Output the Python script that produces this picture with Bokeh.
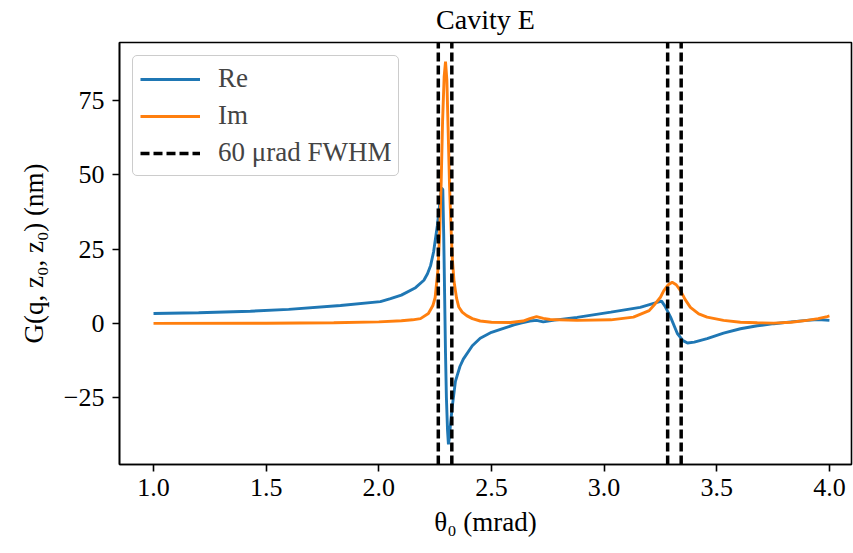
from bokeh.plotting import figure
from bokeh.models import Range1d, FixedTicker, Legend, LegendItem, Title
from bokeh.embed import file_html
from bokeh.resources import INLINE

# ---- data ----
re_x = [1.0, 1.2, 1.43, 1.6, 1.83, 2.007, 2.052, 2.1, 2.163, 2.2, 2.216, 2.23,
        2.243, 2.26, 2.27, 2.278, 2.284, 2.288, 2.292, 2.296, 2.300, 2.305,
        2.309, 2.313, 2.318, 2.326, 2.34, 2.36, 2.375, 2.415, 2.45, 2.5, 2.54,
        2.6, 2.63, 2.67, 2.70, 2.73, 2.78, 2.88, 3.03, 3.16, 3.235, 3.255,
        3.27, 3.295, 3.325, 3.35, 3.37, 3.40, 3.457, 3.53, 3.605, 3.68, 3.753,
        3.83, 3.90, 3.95, 4.0]
re_y = [3.3, 3.6, 4.1, 4.7, 6.0, 7.3, 8.3, 9.5, 12.0, 14.5, 16.7, 19.5,
        24.0, 33.0, 40.0, 45.5, 45.0, 30.0, 10.0, -10.0, -25.0, -36.0,
        -40.7, -38.5, -34.0, -28.0, -19.5, -14.5, -12.0, -7.5, -5.0, -3.0, -2.0,
        -0.5, 0.1, 0.8, 1.0, 0.5, 1.1, 2.0, 3.8, 5.4, 7.1, 7.5,
        5.8, 2.1, -3.4, -5.8, -6.6, -6.3, -5.1, -3.3, -1.8, -0.8, -0.1,
        0.5, 1.0, 1.3, 1.0]

im_x = [1.0, 1.5, 1.8, 2.0, 2.1, 2.15, 2.185, 2.22, 2.24, 2.25, 2.262, 2.27,
        2.277, 2.283, 2.29, 2.296, 2.302, 2.308, 2.314, 2.32, 2.326, 2.334,
        2.345, 2.355, 2.37, 2.39, 2.415, 2.45, 2.5, 2.585, 2.64, 2.67, 2.70,
        2.73, 2.76, 2.88, 3.03, 3.13, 3.2, 3.22, 3.25, 3.265, 3.285, 3.302,
        3.32, 3.339, 3.36, 3.383, 3.42, 3.457, 3.53, 3.605, 3.68, 3.753,
        3.83, 3.90, 3.95, 3.99, 4.0]
im_y = [0.0, 0.05, 0.2, 0.5, 0.9, 1.2, 1.6, 3.3, 6.0, 8.7, 17.7, 30.0,
        48.0, 68.0, 83.0, 88.0, 82.0, 64.0, 46.0, 33.0, 22.0, 14.0,
        8.5, 5.5, 3.8, 2.6, 1.6, 0.8, 0.4, 0.3, 0.8, 1.6, 2.3,
        1.7, 1.3, 1.0, 1.2, 2.1, 4.3, 6.0, 8.8, 11.0, 13.0, 13.8,
        13.0, 11.0, 8.0, 5.4, 3.2, 2.1, 1.0, 0.4, 0.2, 0.1,
        0.4, 1.0, 1.6, 2.3, 2.5]

fwhm_x = [2.264, 2.324, 3.282, 3.342]

x_ticks = [1.0, 1.5, 2.0, 2.5, 3.0, 3.5, 4.0]
y_ticks = [-25, 0, 25, 50, 75]

x_lo, x_hi = 0.849, 4.098
y_lo, y_hi = -47.45, 94.45

FONT = "Liberation Serif"
BLUE = "#1f77b4"
ORANGE = "#ff7f0e"

p = figure(width=853, height=553, output_backend="svg", toolbar_location=None,
           x_range=Range1d(x_lo, x_hi), y_range=Range1d(y_lo, y_hi),
           min_border_left=119, min_border_right=2, min_border_top=42,
           min_border_bottom=89)

# spacer first (closest to frame), then the real title above it
p.add_layout(Title(text=" ", text_font_size="5px", standoff=0), "above")
p.add_layout(Title(text="Cavity E", align="center", text_font=FONT,
                   text_font_size="28px", text_font_style="normal",
                   text_color="black", standoff=0), "above")

p.grid.visible = False
p.outline_line_color = "black"
p.outline_line_width = 1.6
p.background_fill_color = "white"
p.border_fill_color = "white"

for ax in (p.xaxis[0], p.yaxis[0]):
    ax.axis_line_color = "black"
    ax.axis_line_width = 1.6
    ax.major_tick_line_color = "black"
    ax.major_tick_line_width = 1.6
    ax.major_tick_out = 7
    ax.major_tick_in = 0
    ax.minor_tick_line_color = None
    ax.major_label_text_font = FONT
    ax.major_label_text_font_size = "26px"
    ax.major_label_text_color = "black"
    ax.axis_label_text_font = FONT
    ax.axis_label_text_font_size = "27px"
    ax.axis_label_text_font_style = "normal"
    ax.axis_label_text_color = "black"

p.xaxis.major_label_standoff = 7
p.yaxis.major_label_standoff = 8

p.xaxis.ticker = FixedTicker(ticks=x_ticks)
p.xaxis.major_label_overrides = {t: f"{t:.1f}" for t in x_ticks}
p.yaxis.ticker = FixedTicker(ticks=y_ticks)
p.yaxis.major_label_overrides = {t: (f"\u2212{abs(t)}" if t < 0 else f"{t}") for t in y_ticks}

p.xaxis.axis_label = "\u03b8\u2080 (mrad)"
p.yaxis.axis_label = "G(q, z\u2080, z\u2080) (nm)"
p.xaxis.axis_label_standoff = 8
p.yaxis.axis_label_standoff = 12

r_re = p.line(re_x, re_y, line_color=BLUE, line_width=2.9)
r_im = p.line(im_x, im_y, line_color=ORANGE, line_width=2.9)
r_fw = p.segment(x0=fwhm_x, x1=fwhm_x, y0=y_lo, y1=y_hi, line_color="black",
                 line_width=3.5, line_dash="9 4")

legend = Legend(items=[LegendItem(label="Re", renderers=[r_re]),
                       LegendItem(label="Im", renderers=[r_im]),
                       LegendItem(label="60 \u03bcrad FWHM", renderers=[r_fw])],
                location="top_left", margin=13, padding=7, spacing=6,
                glyph_width=60, glyph_height=24, label_height=24,
                label_standoff=18,
                label_text_font=FONT, label_text_font_size="27px",
                border_line_color="#cccccc", border_line_width=1.5,
                border_line_alpha=1.0, border_radius=5,
                background_fill_color="white", background_fill_alpha=0.8)
p.add_layout(legend)

open("out.html", "w").write(file_html(p, INLINE))
